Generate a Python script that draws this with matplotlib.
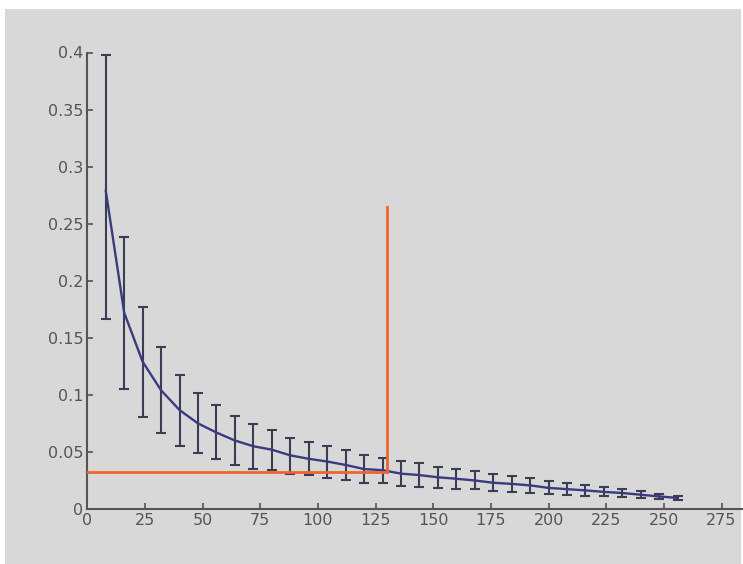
import matplotlib
matplotlib.use("Agg")
import matplotlib.pyplot as plt
from matplotlib.patches import Rectangle

# sample sizes and mean / error bar ends
x_vals = [8, 16, 24, 32, 40, 48, 56, 64, 72, 80, 88, 96, 104, 112, 120, 128,
          136, 144, 152, 160, 168, 176, 184, 192, 200, 208, 216, 224, 232, 240, 248, 256]
mean_vals = [0.279, 0.172, 0.129, 0.104, 0.0867, 0.075, 0.067, 0.060, 0.055, 0.052,
             0.047, 0.044, 0.0416, 0.0386, 0.035, 0.034, 0.031, 0.0297, 0.0278, 0.0265,
             0.025, 0.023, 0.022, 0.0207, 0.0185, 0.0174, 0.0163, 0.015, 0.014, 0.0125,
             0.011, 0.0097]
upper_vals = [0.398, 0.2386, 0.177, 0.1416, 0.1177, 0.1017, 0.0907, 0.0816, 0.0744, 0.0691,
              0.0625, 0.0587, 0.0556, 0.0518, 0.047, 0.0449, 0.042, 0.040, 0.0367, 0.0352,
              0.0336, 0.0305, 0.029, 0.0273, 0.0242, 0.0226, 0.021, 0.0195, 0.0179, 0.0154,
              0.0135, 0.0116]
lower_vals = [0.1667, 0.105, 0.0807, 0.0662, 0.0556, 0.0487, 0.0436, 0.0386, 0.0352, 0.0345,
              0.031, 0.0295, 0.0276, 0.0254, 0.0229, 0.0229, 0.0204, 0.0195, 0.0188, 0.0179,
              0.0173, 0.0157, 0.0148, 0.0141, 0.0129, 0.0122, 0.0116, 0.011, 0.0104, 0.0097,
              0.0088, 0.0078]

# red marker lines
cut_x = 130
cut_y = 0.032
cut_top = 0.265

x_ticks = [0, 25, 50, 75, 100, 125, 150, 175, 200, 225, 250, 275]
y_ticks = [0, 0.05, 0.1, 0.15, 0.2, 0.25, 0.3, 0.35, 0.4]
y_labels = ["0", "0.05", "0.1", "0.15", "0.2", "0.25", "0.3", "0.35", "0.4"]

bg = "#d8d8d8"
fig = plt.figure(figsize=(7.43, 5.64), dpi=100, facecolor="white")
fig.patches.append(Rectangle((5 / 743, 0), 736 / 743, 555 / 564,
                             transform=fig.transFigure, facecolor=bg,
                             edgecolor="none", zorder=-10))

ax = fig.add_axes([87.3 / 743, 55 / 564, 1 - 87.3 / 743, 456.5 / 564])
ax.patch.set_visible(False)

err_lo = [m - l for m, l in zip(mean_vals, lower_vals)]
err_hi = [u - m for m, u in zip(mean_vals, upper_vals)]
ax.errorbar(x_vals, mean_vals, yerr=[err_lo, err_hi], fmt="none",
            ecolor="#3c3c55", elinewidth=1.5, capsize=3.5, capthick=1.5, zorder=2)
ax.plot(x_vals, mean_vals, color="#3a3a80", lw=1.7, zorder=3)

ax.plot([0, cut_x], [cut_y, cut_y], color="#f0642d", lw=2, zorder=4)
ax.plot([cut_x, cut_x], [cut_y, cut_top], color="#f0642d", lw=2, zorder=4)

ax.set_xlim(0, 284.3)
ax.set_ylim(0, 0.4)
ax.set_xticks(x_ticks)
ax.set_yticks(y_ticks)
ax.set_yticklabels(y_labels)
ax.tick_params(direction="in", length=4, width=1.2, colors="#555555",
               labelsize=11.5, labelcolor="#555555", pad=3)

ax.spines['top'].set_visible(False)
ax.spines['right'].set_visible(False)
ax.spines['left'].set_color("#555555")
ax.spines['bottom'].set_color("#555555")
ax.spines['left'].set_linewidth(1.5)
ax.spines['bottom'].set_linewidth(1.5)

plt.savefig("out.png", dpi=100, facecolor=fig.get_facecolor())
